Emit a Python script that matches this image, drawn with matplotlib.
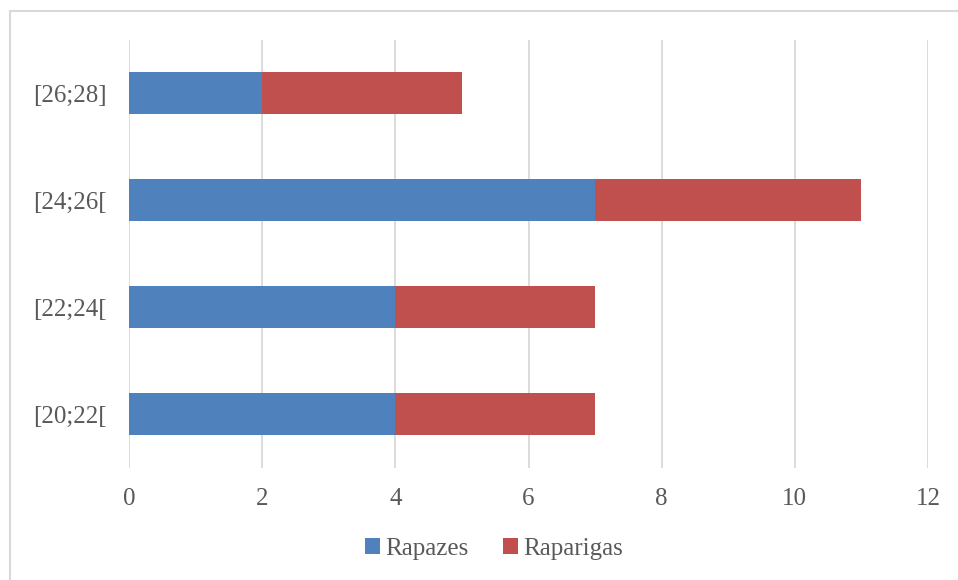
import matplotlib.pyplot as plt
from matplotlib.patches import Rectangle

# classes de idade e frequências
classes = ["[20;22[", "[22;24[", "[24;26[", "[26;28]"]
rapazes = [4, 4, 7, 2]
raparigas = [3, 3, 4, 3]
xticks = [0, 2, 4, 6, 8, 10, 12]

plt.rcParams['font.family'] = ['Liberation Serif', 'DejaVu Serif']

fig = plt.figure(figsize=(9.58, 5.8), dpi=100)
ax = fig.add_axes([129 / 958, 1 - 467.5 / 580, 799 / 958, 428 / 580])

blue = "#4F81BD"
red = "#C0504D"
txt = "#595959"

ax.barh(classes, rapazes, height=0.39, color=blue, label="Rapazes", zorder=3)
ax.barh(classes, raparigas, left=rapazes, height=0.39, color=red,
        label="Raparigas", zorder=3)

ax.set_xlim(0, 12)
ax.set_ylim(-0.5, 3.5)
ax.set_xticks(xticks)
ax.grid(axis="x", color="#d9d9d9", linewidth=1.3, zorder=0)
for s in ax.spines.values():
    s.set_visible(False)
ax.tick_params(length=0, labelsize=18, colors=txt)
ax.tick_params(axis="x", pad=15)
ax.tick_params(axis="y", pad=16)

fig.legend(loc="center", bbox_to_anchor=(494 / 958, 1 - 549 / 580), ncol=2,
           frameon=False, fontsize=18, labelcolor=txt, handlelength=0.6,
           handleheight=0.6, handletextpad=0.2, columnspacing=1.4)

# moldura do gráfico (cortada à direita e em baixo)
fig.patches.append(Rectangle((9.5 / 958, -0.1), 1.2, 1 - 10.5 / 580 + 0.1,
                             transform=fig.transFigure, fill=False,
                             edgecolor="#d9d9d9", linewidth=1.5))

fig.savefig("out.png", dpi=100)
